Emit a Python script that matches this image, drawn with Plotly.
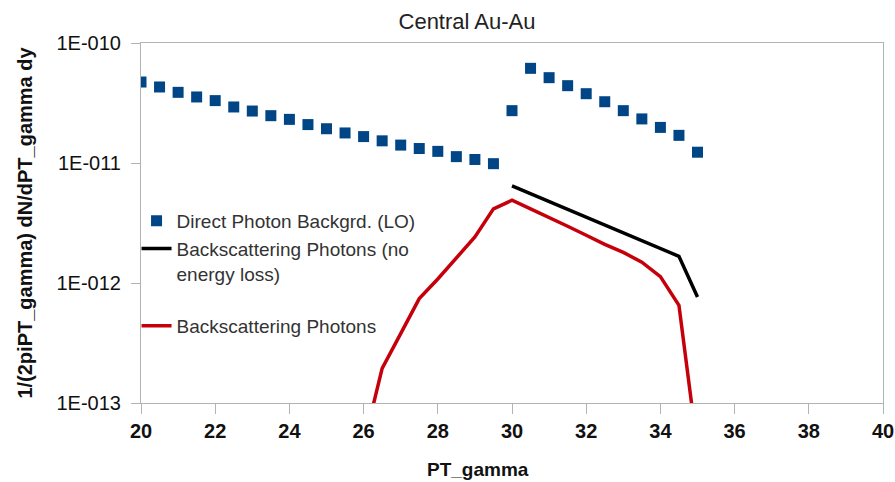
import plotly.graph_objects as go

# Direct photon background (LO), pT from 20 to 35 GeV in 0.5 steps
pt_direct = [20.0, 20.5, 21.0, 21.5, 22.0, 22.5, 23.0, 23.5, 24.0, 24.5,
             25.0, 25.5, 26.0, 26.5, 27.0, 27.5, 28.0, 28.5, 29.0, 29.5,
             30.0, 30.5, 31.0, 31.5, 32.0, 32.5, 33.0, 33.5, 34.0, 34.5, 35.0]
yield_direct = [4.73e-11, 4.30e-11, 3.88e-11, 3.55e-11, 3.31e-11, 2.93e-11, 2.71e-11, 2.48e-11,
                2.31e-11, 2.09e-11, 1.93e-11, 1.78e-11, 1.66e-11, 1.53e-11, 1.41e-11, 1.32e-11,
                1.25e-11, 1.13e-11, 1.07e-11, 9.87e-12,
                2.73e-11, 6.15e-11, 5.14e-11, 4.41e-11, 3.78e-11, 3.24e-11, 2.73e-11, 2.33e-11,
                1.98e-11, 1.70e-11, 1.23e-11]

# Backscattering photons without energy loss
pt_noloss = [30.0, 30.5, 31.0, 31.5, 32.0, 32.5, 33.0, 33.5, 34.0, 34.5, 35.0]
yield_noloss = [6.44e-12, 5.54e-12, 4.77e-12, 4.10e-12, 3.53e-12, 3.04e-12,
                2.62e-12, 2.26e-12, 1.94e-12, 1.67e-12, 7.64e-13]

# Backscattering photons with energy loss
pt_loss = [26.0, 26.5, 27.0, 27.5, 28.0, 28.5, 29.0, 29.5, 30.0, 30.5, 31.0,
           31.5, 32.0, 32.5, 33.0, 33.5, 34.0, 34.5, 35.0]
yield_loss = [4.5e-14, 1.94e-13, 3.79e-13, 7.41e-13, 1.08e-12, 1.62e-12, 2.42e-12,
              4.15e-12, 4.89e-12, 4.15e-12, 3.53e-12, 2.97e-12, 2.50e-12, 2.10e-12,
              1.80e-12, 1.49e-12, 1.13e-12, 6.52e-13, 4.1e-14]

y_tickvals = [1e-13, 1e-12, 1e-11, 1e-10]
y_ticktext = ["1E-013", "1E-012", "1E-011", "1E-010"]

FONT = "Liberation Sans, Arial, sans-serif"
GRID = "#b3b3b3"

fig = go.Figure()
fig.add_trace(go.Scatter(
    x=pt_direct, y=yield_direct, mode="markers",
    name="Direct Photon Backgrd. (LO)",
    marker=dict(symbol="square", size=11, color="#004586", line=dict(width=0)),
))
fig.add_trace(go.Scatter(
    x=pt_noloss, y=yield_noloss, mode="lines",
    name="Backscattering Photons (no<br>energy loss)<br> ",
    line=dict(color="#000000", width=3.5),
))
fig.add_trace(go.Scatter(
    x=pt_loss, y=yield_loss, mode="lines",
    name="Backscattering Photons",
    line=dict(color="#c5000b", width=3.5),
))

fig.update_layout(
    width=895, height=482,
    margin=dict(l=141, r=12, t=43, b=79, autoexpand=False),
    paper_bgcolor="white", plot_bgcolor="white",
    font=dict(family=FONT, color="#222222"),
    title=dict(text="Central Au-Au", font=dict(size=22, color="#222222"),
               xref="container", yref="container", x=467 / 895, y=1 - 21 / 482,
               xanchor="center", yanchor="middle"),
    showlegend=True,
    legend=dict(xref="paper", yref="paper", x=-0.006, y=(403 - 202) / 360,
                xanchor="left", yanchor="top", bgcolor="rgba(0,0,0,0)",
                font=dict(size=19, color="#333333", family=FONT),
                valign="top", tracegroupgap=0),
)

fig.update_xaxes(
    range=[20, 40], dtick=2, tick0=20,
    showgrid=False, zeroline=False,
    showline=True, linecolor=GRID, linewidth=1, mirror=True,
    ticks="outside", ticklen=10, tickcolor=GRID,
    tickfont=dict(size=20, family=FONT, color="#111111", weight="bold"),
)
fig.update_yaxes(
    type="log", range=[-13, -10],
    tickvals=y_tickvals, ticktext=y_ticktext,
    showgrid=False, zeroline=False,
    showline=True, linecolor=GRID, linewidth=1, mirror=True,
    ticks="outside", ticklen=9, tickcolor=GRID, ticklabelstandoff=6,
    tickfont=dict(size=20, color="#111111"),
    title=dict(text="<b>1/(2piPT_gamma) dN/dPT_gamma dy</b>", font=dict(size=20, color="#111111"),
               standoff=18),
)

fig.add_annotation(
    text="<b>PT_gamma</b>", xref="paper", yref="paper",
    x=(478 - 141) / 742, y=-(469 - 403) / 360,
    xanchor="center", yanchor="middle", showarrow=False,
    font=dict(size=19, color="#111111"),
)

fig.write_html("out.html")
